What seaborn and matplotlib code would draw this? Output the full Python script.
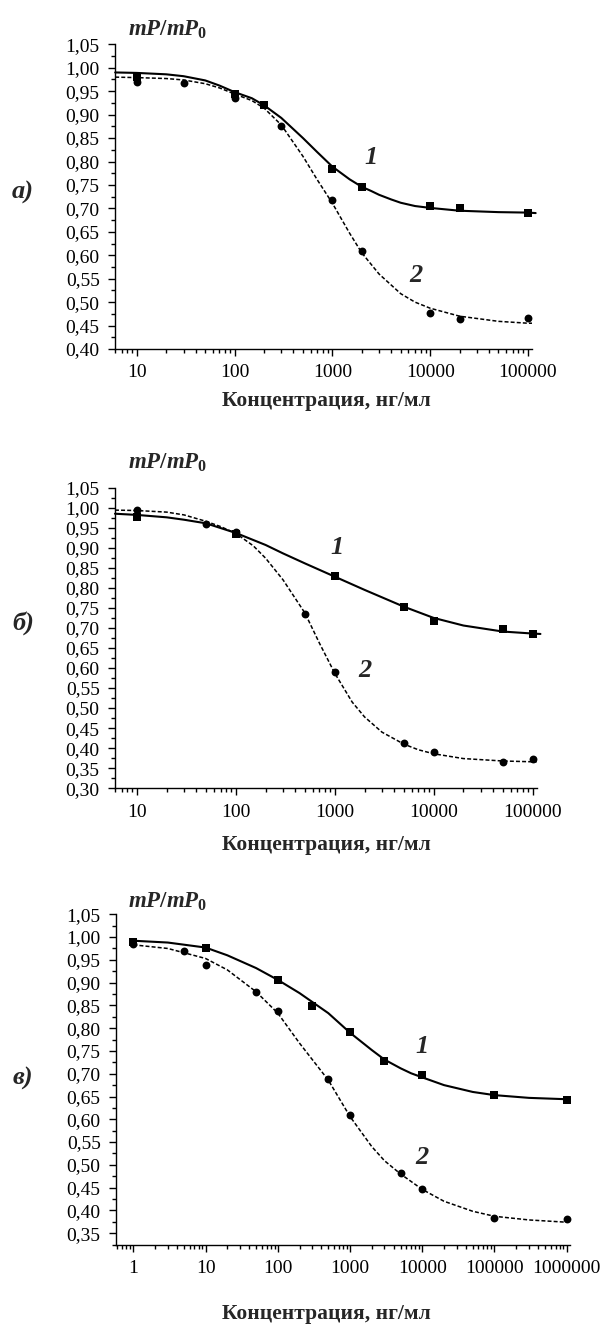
import numpy as np
import pandas as pd
import matplotlib
matplotlib.use("Agg")
import matplotlib.pyplot as plt
import seaborn as sns
from matplotlib.ticker import FixedLocator, FuncFormatter, LogLocator, NullFormatter

# --- Data ---
# panel a)
a_pts_x1 = [10, 100, 200, 1000, 2000, 10000, 20000, 100000]
a_pts_y1 = [0.980, 0.944, 0.921, 0.784, 0.745, 0.706, 0.700, 0.690]
a_pts_x2 = [10, 30, 100, 300, 1000, 2000, 10000, 20000, 100000]
a_pts_y2 = [0.970, 0.967, 0.935, 0.875, 0.718, 0.610, 0.477, 0.465, 0.466]
a_fit_x1 = [6, 10, 20, 30, 50, 70, 100, 150, 200, 300, 500, 700, 1000, 1500, 2000, 2500, 3000, 4000, 5000, 7000, 10000, 20000, 50000, 100000, 120000]
a_fit_y1 = [0.990, 0.989, 0.986, 0.982, 0.973, 0.962, 0.948, 0.935, 0.920, 0.893, 0.850, 0.820, 0.789, 0.762, 0.746, 0.737, 0.729, 0.719, 0.712, 0.705, 0.701, 0.695, 0.692, 0.691, 0.690]
a_fit_x2 = [6, 10, 20, 30, 50, 70, 100, 150, 200, 300, 500, 700, 1000, 1500, 2000, 3000, 5000, 7000, 10000, 20000, 50000, 100000, 110000]
a_fit_y2 = [0.980, 0.979, 0.977, 0.974, 0.966, 0.957, 0.944, 0.930, 0.914, 0.878, 0.811, 0.761, 0.711, 0.647, 0.605, 0.560, 0.518, 0.500, 0.487, 0.470, 0.459, 0.455, 0.455]

# panel б)
b_pts_x1 = [10, 100, 1000, 5000, 10000, 50000, 100000]
b_pts_y1 = [0.978, 0.934, 0.830, 0.751, 0.718, 0.697, 0.685]
b_pts_x2 = [10, 50, 100, 500, 1000, 5000, 10000, 50000, 100000]
b_pts_y2 = [0.994, 0.960, 0.940, 0.736, 0.590, 0.412, 0.391, 0.365, 0.372]
b_fit_x1 = [6, 10, 20, 30, 50, 100, 200, 300, 500, 1000, 2000, 5000, 10000, 20000, 50000, 100000, 120000]
b_fit_y1 = [0.985, 0.982, 0.976, 0.970, 0.961, 0.937, 0.907, 0.886, 0.861, 0.828, 0.795, 0.753, 0.725, 0.706, 0.691, 0.686, 0.685]
b_fit_x2 = [6, 10, 20, 30, 50, 70, 100, 150, 200, 300, 500, 700, 1000, 1500, 2000, 3000, 5000, 7000, 10000, 20000, 50000, 100000, 110000]
b_fit_y2 = [0.994, 0.993, 0.989, 0.982, 0.966, 0.953, 0.936, 0.905, 0.874, 0.820, 0.737, 0.662, 0.587, 0.515, 0.478, 0.440, 0.410, 0.396, 0.386, 0.374, 0.368, 0.366, 0.366]

# panel в)
c_pts_x1 = [1, 10, 100, 300, 1000, 3000, 10000, 100000, 1000000]
c_pts_y1 = [0.990, 0.977, 0.906, 0.849, 0.792, 0.729, 0.697, 0.654, 0.643]
c_pts_x2 = [1, 5, 10, 50, 100, 500, 1000, 5000, 10000, 100000, 1000000]
c_pts_y2 = [0.984, 0.970, 0.939, 0.879, 0.837, 0.688, 0.610, 0.482, 0.447, 0.383, 0.382]
c_fit_x1 = [1, 3, 10, 20, 50, 100, 200, 500, 1000, 2000, 3000, 5000, 7000, 10000, 20000, 50000, 100000, 300000, 1000000]
c_fit_y1 = [0.992, 0.988, 0.977, 0.960, 0.932, 0.906, 0.877, 0.833, 0.790, 0.752, 0.731, 0.712, 0.701, 0.692, 0.675, 0.660, 0.653, 0.647, 0.644]
c_fit_x2 = [1, 3, 10, 20, 50, 100, 200, 500, 1000, 2000, 3000, 5000, 10000, 20000, 50000, 100000, 300000, 1000000]
c_fit_y2 = [0.983, 0.975, 0.953, 0.928, 0.880, 0.833, 0.767, 0.686, 0.606, 0.540, 0.509, 0.480, 0.446, 0.420, 0.398, 0.387, 0.379, 0.374]

panel_letters = ["а)", "б)", "в)"]
x_label = "Концентрация, нг/мл"
y_label = r"$mP/mP_0$"

# --- Style ---
sns.set_style("ticks")
plt.rcParams['font.family'] = ['Liberation Serif', 'DejaVu Serif']
plt.rcParams['mathtext.fontset'] = 'custom'
plt.rcParams['mathtext.it'] = 'Liberation Serif:italic:bold'
plt.rcParams['mathtext.rm'] = 'Liberation Serif:bold'
plt.rcParams['mathtext.bf'] = 'Liberation Serif:bold'

fig = plt.figure(figsize=(6.01, 13.27), dpi=100)

panels = [
    dict(rect=[0.1913, 0.7370, 0.6932, 0.2296], xlim=(5.97, 1.09e5), ylim=(0.40, 1.05),
         pts=(a_pts_x1, a_pts_y1, a_pts_x2, a_pts_y2), fit=(a_fit_x1, a_fit_y1, a_fit_x2, a_fit_y2),
         decades=[10, 100, 1000, 10000, 100000], lab1=(2500, 0.809), lab2=(7200, 0.557),
         letter_y=0.8546, ylab_y=0.9774, xlab_y=1 - 401 / 1327),
    dict(rect=[0.1913, 0.4060, 0.7017, 0.2265], xlim=(6.0, 1.1e5), ylim=(0.30, 1.05),
         pts=(b_pts_x1, b_pts_y1, b_pts_x2, b_pts_y2), fit=(b_fit_x1, b_fit_y1, b_fit_x2, b_fit_y2),
         decades=[10, 100, 1000, 10000, 100000], lab1=(1050, 0.90), lab2=(2000, 0.595),
         letter_y=0.5305, ylab_y=0.6511, xlab_y=1 - 845 / 1327),
    dict(rect=[0.1930, 0.0618, 0.7554, 0.2492], xlim=(0.575, 1.11e6), ylim=(0.324, 1.05),
         pts=(c_pts_x1, c_pts_y1, c_pts_x2, c_pts_y2), fit=(c_fit_x1, c_fit_y1, c_fit_x2, c_fit_y2),
         decades=[1, 10, 100, 1000, 10000, 100000, 1000000], lab1=(10000, 0.759), lab2=(10000, 0.517),
         letter_y=0.1876, ylab_y=0.3203, xlab_y=1 - 1314 / 1327),
]

comma_fmt = FuncFormatter(lambda v, pos: f"{v:.2f}".replace('.', ','))

for letter, p in zip(panel_letters, panels):
    ax = fig.add_axes(p['rect'])
    fx1, fy1, fx2, fy2 = p['fit']
    px1, py1, px2, py2 = p['pts']

    # fitted curves: 1 - solid, 2 - dotted
    sns.lineplot(x=fx1, y=fy1, ax=ax, color='black', linewidth=1.5,
                 estimator=None, sort=False)
    sns.lineplot(x=fx2, y=fy2, ax=ax, color='black', linewidth=1.1,
                 estimator=None, sort=False, linestyle=(0, (2.6, 1.4)))
    for ln in ax.lines:
        ln.set_clip_on(False)
        ln.set_solid_joinstyle('round')

    # experimental points
    sns.scatterplot(x=px1, y=py1, ax=ax, marker='s', s=26, color='black',
                    linewidth=0, zorder=3, clip_on=False)
    sns.scatterplot(x=px2, y=py2, ax=ax, marker='o', s=32, color='black',
                    linewidth=0, zorder=3, clip_on=False)

    ax.set_xscale('log')
    ax.set_xlim(*p['xlim'])
    ax.set_ylim(*p['ylim'])

    ax.xaxis.set_major_locator(FixedLocator(p['decades']))
    ax.xaxis.set_major_formatter(FuncFormatter(lambda v, pos: f"{int(round(v))}"))
    ax.xaxis.set_minor_locator(LogLocator(base=10, subs=np.arange(2, 10), numticks=20))
    ax.xaxis.set_minor_formatter(NullFormatter())

    yt = np.round(np.arange(np.ceil(p['ylim'][0] / 0.05 - 1e-6) * 0.05, 1.0501, 0.05), 2)
    ax.yaxis.set_major_locator(FixedLocator(yt))
    ax.yaxis.set_major_formatter(comma_fmt)
    ym = np.round(np.arange(yt[0] - 0.025, 1.05, 0.05), 3)
    ym = ym[ym >= p['ylim'][0]]
    ax.yaxis.set_minor_locator(FixedLocator(ym))

    ax.tick_params(axis='both', which='major', direction='out', length=5, width=1,
                   labelsize=14, pad=6, color='black', labelcolor='black')
    ax.tick_params(axis='both', which='minor', direction='out', length=3, width=1,
                   color='black')
    ax.set_xlabel("")
    ax.set_ylabel("")
    sns.despine(ax=ax)
    for sp in ['left', 'bottom']:
        ax.spines[sp].set_color('black')
        ax.spines[sp].set_linewidth(1.0)

    # curve numbers
    ax.text(*p['lab1'], "1", fontsize=19, fontweight='bold', fontstyle='italic',
            ha='center', va='center')
    ax.text(*p['lab2'], "2", fontsize=19, fontweight='bold', fontstyle='italic',
            ha='center', va='center')

    # y label (mP/mP0) at the top of the axis
    fig.text(0.213, p['ylab_y'], y_label, fontsize=16.5, ha='left', va='center')
    # panel letter
    fig.text(0.038, p['letter_y'], letter, fontsize=19, fontweight='bold',
             fontstyle='italic', ha='center', va='center')
    # x label
    fig.text(0.5424, p['xlab_y'], x_label, fontsize=15.5, fontweight='bold',
             ha='center', va='center')

fig.savefig("out.png", dpi=100)
